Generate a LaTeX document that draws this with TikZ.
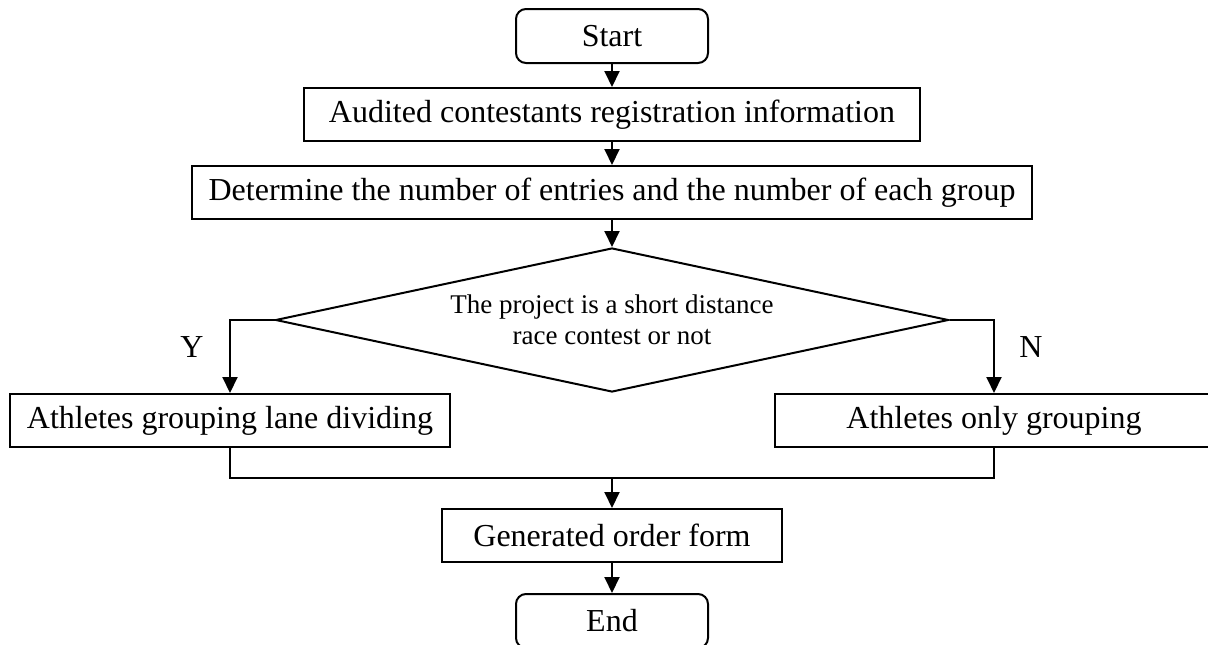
\documentclass[tikz,border=0pt]{standalone}
\usepackage{fontspec}
\setmainfont{Liberation Serif}
\usetikzlibrary{arrows.meta,shapes.geometric}
\begin{document}
\begin{tikzpicture}[x=1pt,y=-1pt,
  every node/.style={font=\fontsize{32}{36}\selectfont, inner sep=0pt},
  box/.style={draw, line width=2pt, rectangle, minimum height=53pt},
  term/.style={box, rounded corners=10pt, minimum width=192pt, minimum height=54pt},
  dec/.style={draw, line width=2pt, diamond, aspect=4.67, minimum width=673pt, minimum height=144pt,
    align=center, font=\fontsize{27}{31}\selectfont},
  lbl/.style={font=\fontsize{32}{36}\selectfont},
  conn/.style={line width=2pt},
  arr/.style={conn, -{Triangle[length=16pt,width=15pt]}}]
\useasboundingbox (0,0) rectangle (1208,645);
\clip (0,0) rectangle (1208,645);
\node[term] (start) at (612,36) {Start};
\node[box, minimum width=616pt] (b2) at (612,114.5) {Audited contestants registration information};
\node[box, minimum width=840pt] (b3) at (612,192.5) {Determine the number of entries and the number of each group};
\node[dec] (dia) at (612,320) {The project is a short distance\\race contest or not};
\node[box, minimum width=440pt] (left) at (230,420.5) {Athletes grouping lane dividing};
\node[box, minimum width=438pt] (right) at (994,420.5) {Athletes only grouping};
\node[box, minimum width=340pt] (gen) at (612,535.5) {Generated order form};
\node[term] (end) at (612,621) {End};
\node[lbl] (y) at (192,347) {Y};
\node[lbl] (n) at (1031,347) {N};
\coordinate (j) at (612,478);
\draw[arr] (start) -- (b2);
\draw[arr] (b2) -- (b3);
\draw[arr] (b3) -- (dia);
\draw[arr] (dia.west) -| (left.north);
\draw[arr] (dia.east) -| (right.north);
\draw[conn] (left.south) -- (left.south |- j) -- (right.south |- j) -- (right.south);
\draw[arr] (j) -- (gen.north);
\draw[arr] (gen) -- (end);
\end{tikzpicture}
\end{document}
